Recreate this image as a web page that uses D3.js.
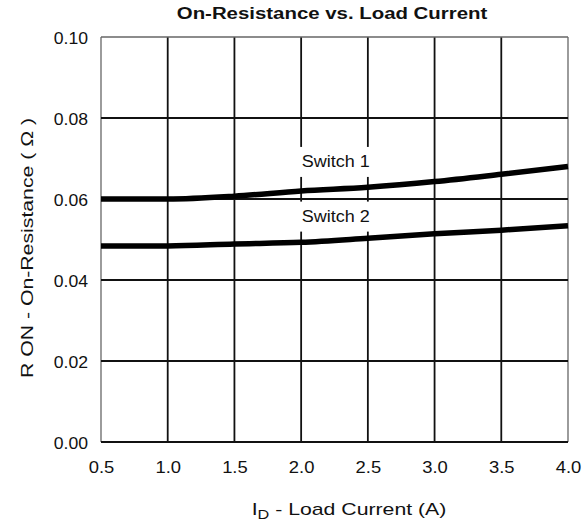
<!DOCTYPE html>
<html>
<head>
<meta charset="utf-8">
<script src="https://cdn.jsdelivr.net/npm/d3@7"></script>
<style>
  html, body { margin: 0; padding: 0; background: #fff; }
  svg { display: block; }
  text { font-family: "Liberation Sans", Arial, Helvetica, sans-serif; fill: #111; }
</style>
</head>
<body>
<svg id="chart" width="583" height="523"></svg>
<script>
const loadCurrent = [0.5, 1.0, 1.5, 2.0, 2.5, 3.0, 3.5, 4.0];
const switch1 = [0.0600, 0.0600, 0.0607, 0.0620, 0.0629, 0.0643, 0.0661, 0.0680];
const switch2 = [0.0484, 0.0484, 0.0489, 0.0493, 0.0503, 0.0514, 0.0523, 0.0534];
const xTicks = [0.5, 1.0, 1.5, 2.0, 2.5, 3.0, 3.5, 4.0];
const yTicks = [0.00, 0.02, 0.04, 0.06, 0.08, 0.10];
const seriesNames = ["Switch 1", "Switch 2"];

const svg = d3.select("#chart");
const mLeft = 101, mRight = 568, mTop = 37, mBottom = 442;

const x = d3.scaleLinear().domain([0.5, 4.0]).range([mLeft, mRight]);
const y = d3.scaleLinear().domain([0, 0.10]).range([mBottom, mTop]);

// Grid
const grid = svg.append("g");
xTicks.forEach((t, i) => {
  const edge = i === 0 || i === xTicks.length - 1;
  grid.append("line")
    .attr("x1", x(t)).attr("x2", x(t)).attr("y1", y(0)).attr("y2", y(0.10))
    .attr("stroke", edge ? "#666" : "#111").attr("stroke-width", edge ? 1.3 : 1.8);
});
yTicks.forEach((t, i) => {
  const edge = i === yTicks.length - 1;
  grid.append("line")
    .attr("x1", x(0.5)).attr("x2", x(4.0)).attr("y1", y(t)).attr("y2", y(t))
    .attr("stroke", edge ? "#666" : "#111").attr("stroke-width", edge ? 1.3 : 1.8);
});

// Axes (labels only), text stretched horizontally like the scanned original
const xAxis = d3.axisBottom(x).tickValues(xTicks).tickFormat(d3.format(".1f")).tickSize(0).tickPadding(0);
const gx = svg.append("g").attr("transform", `translate(0,${mBottom})`).call(xAxis);
gx.select(".domain").remove();
gx.selectAll("text")
  .attr("y", 0).attr("dy", null)
  .attr("transform", "translate(0,31) scale(1.15,1)")
  .style("font-size", "16px").style("font-family", '"Liberation Sans", Arial, sans-serif').attr("fill", "#111");

const yAxis = d3.axisLeft(y).tickValues(yTicks).tickFormat(d3.format(".2f")).tickSize(0).tickPadding(0);
const gy = svg.append("g").attr("transform", `translate(${mLeft},0)`).call(yAxis);
gy.select(".domain").remove();
gy.selectAll("text")
  .attr("x", 0).attr("dy", null)
  .attr("transform", "translate(-13,6) scale(1.1,1)")
  .style("font-size", "16px").style("font-family", '"Liberation Sans", Arial, sans-serif').attr("fill", "#111");

// Series labels with white background
const labelPos = [[2.26, 0.0694], [2.26, 0.0559]];
seriesNames.forEach((name, i) => {
  const cx = x(labelPos[i][0]), cy = y(labelPos[i][1]);
  svg.append("rect").attr("x", cx - 38).attr("y", cy - 14).attr("width", 76).attr("height", 30).attr("fill", "#fff");
  svg.append("text").attr("transform", `translate(${cx},${cy + 6}) scale(1.06,1)`).attr("text-anchor", "middle")
    .style("font-size", "17px").text(name);
});

// Curves
const line = d3.line().x((d, i) => x(loadCurrent[i])).y(d => y(d)).curve(d3.curveMonotoneX);
[switch1, switch2].forEach(s => {
  svg.append("path").datum(s).attr("d", line).attr("fill", "none")
    .attr("stroke", "#000").attr("stroke-width", 5.5).attr("stroke-linecap", "butt");
});

// Title
svg.append("text").attr("transform", "translate(332,19) scale(1.2,1)").attr("text-anchor", "middle")
  .style("font-size", "17px").style("font-weight", "bold").text("On-Resistance vs. Load Current");

// X title
const xt = svg.append("text").attr("transform", "translate(349,515) scale(1.25,1)").attr("text-anchor", "middle").style("font-size", "17px");
xt.append("tspan").text("I");
xt.append("tspan").attr("dy", 4).style("font-size", "13px").text("D");
xt.append("tspan").attr("dy", -4).text(" - Load Current (A)");

// Y title
svg.append("text").attr("transform", "translate(33,248) rotate(-90) scale(1.25,1)").attr("text-anchor", "middle")
  .style("font-size", "17px").text("R ON -  On-Resistance ( Ω )");
</script>
</body>
</html>
